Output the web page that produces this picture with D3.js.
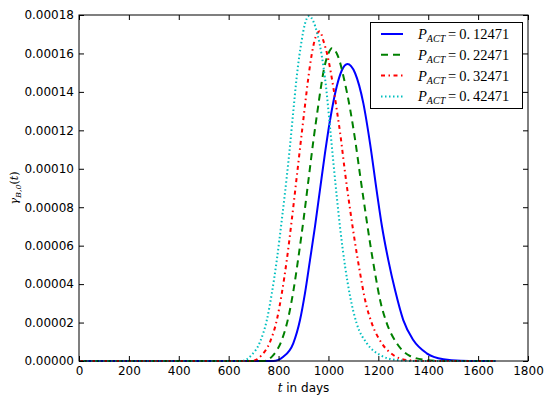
<!DOCTYPE html>
<html>
<head>
<meta charset="utf-8">
<script src="https://cdn.jsdelivr.net/npm/d3@7"></script>
<style>
  body { margin: 0; background: #fff; }
  svg { display: block; }
  .tick text { font-family: "DejaVu Sans", sans-serif; font-size: 12px; fill: #000; }
  .tick line { stroke: #000; }
</style>
</head>
<body>
<div class="main"></div>
<script>
// values in units of 1e-6
const labels = ["0.12471", "0.22471", "0.32471", "0.42471"];
const colors = ["#0000ff", "#008000", "#ff0000", "#00bfbf"];
const dashes = [null, "7,5", "4,3.5,1.5,3.5", "1.5,2.5"];

const blueT = [0, 600, 779, 819, 859, 886, 906, 926, 946, 966, 986, 1006, 1033, 1053, 1076, 1107, 1140, 1167, 1194, 1214, 1240, 1267, 1300, 1340, 1394, 1461, 1530, 1600, 1670];
const blueV = [0, 0, 0, 2.2, 9.2, 21.3, 35.3, 52.5, 69.9, 89.0, 108, 125, 142.7, 151, 154.5, 149.7, 134, 113, 88, 70.5, 52.5, 36.9, 21.3, 10.9, 4.0, 0.9, 0.1, 0, 0];

const greenT = [0, 600, 739, 779, 813, 840, 860, 880, 900, 920, 940, 956, 967, 984, 1000, 1014, 1040, 1062, 1087, 1107, 1127, 1147, 1167, 1187, 1207, 1234, 1274, 1327, 1394, 1460, 1670];
const greenV = [0, 0, 0, 3.1, 10.9, 23.1, 36.9, 54.3, 73.4, 94.2, 115, 130, 140, 153, 160, 162.7, 158, 147, 131, 115, 96.5, 78.6, 61.2, 45.6, 31.7, 19.6, 9.2, 2.6, 0.5, 0, 0];

const redT = [0, 600, 692, 733, 766, 793, 813, 833, 853, 873, 893, 906, 920, 933, 953, 965, 980, 1000, 1020, 1033, 1047, 1067, 1087, 1107, 1127, 1147, 1174, 1214, 1260, 1314, 1380, 1670];
const redV = [0, 0, 0, 3.1, 10.0, 21.3, 35.2, 52.5, 73.4, 95.9, 118.5, 133, 148, 159.5, 170, 171.5, 166.5, 156.6, 142, 131, 118.5, 97.6, 78.6, 61.2, 45.6, 31.7, 19.6, 9.2, 3.1, 0.5, 0, 0];

const cyanT = [0, 600, 652, 692, 726, 753, 773, 793, 813, 833, 846, 857, 873, 893, 905, 922, 940, 955, 973, 990, 1006, 1020, 1033, 1047, 1067, 1087, 1113, 1154, 1207, 1274, 1340, 1670];
const cyanV = [0, 0, 0, 3.1, 10.0, 21.3, 35.2, 52.5, 73.4, 95.9, 112, 127, 148, 167, 175, 179.5, 176.5, 170.5, 159, 143, 122, 103, 86, 69, 49, 33.5, 19.6, 9.2, 3.1, 0.5, 0, 0];

const xTicks = [0, 200, 400, 600, 800, 1000, 1200, 1400, 1600, 1800];
const yTicks = [0, 0.00002, 0.00004, 0.00006, 0.00008, 0.0001, 0.00012, 0.00014, 0.00016, 0.00018];

const seriesT = [blueT, greenT, redT, cyanT];
const seriesV = [blueV, greenV, redV, cyanV];

let width = 550;
let height = 399;
let margin = { left: 79, right: 22, top: 15, bottom: 38 };

let svg = d3.select(".main").append("svg")
    .attr("width", width)
    .attr("height", height);

let x = d3.scaleLinear().domain([0, 1800]).range([margin.left, width - margin.right]);
let y = d3.scaleLinear().domain([0, 0.00018]).range([height - margin.bottom, margin.top]);

// curves, cyan drawn last
let line = d3.line()
    .x(d => x(d[0]))
    .y(d => y(d[1] * 1e-6))
    .curve(d3.curveMonotoneX);

seriesT.forEach((ts, i) => {
    let pts = ts.map((t, j) => [t, seriesV[i][j]]);
    svg.append("path")
        .datum(pts)
        .attr("fill", "none")
        .attr("stroke", colors[i])
        .attr("stroke-width", 2)
        .attr("stroke-dasharray", dashes[i])
        .attr("d", line);
});

// axes, ticks pointing inward
svg.append("g")
    .attr("transform", `translate(0,${y(0)})`)
    .call(d3.axisBottom(x).tickValues(xTicks).tickFormat(d3.format("d")).tickSize(-5).tickSizeOuter(0).tickPadding(5));
svg.append("g")
    .attr("transform", `translate(0,${y(0.00018)})`)
    .call(d3.axisTop(x).tickValues(xTicks).tickFormat("").tickSize(-5).tickSizeOuter(0));
svg.append("g")
    .attr("transform", `translate(${x(0)},0)`)
    .call(d3.axisLeft(y).tickValues(yTicks).tickFormat(d3.format(".5f")).tickSize(-5).tickSizeOuter(0).tickPadding(5));
svg.append("g")
    .attr("transform", `translate(${x(1800)},0)`)
    .call(d3.axisRight(y).tickValues(yTicks).tickFormat("").tickSize(-5).tickSizeOuter(0));
svg.selectAll(".domain").remove();

svg.append("rect")
    .attr("x", x(0))
    .attr("y", y(0.00018))
    .attr("width", x(1800) - x(0))
    .attr("height", y(0) - y(0.00018))
    .attr("fill", "none")
    .attr("stroke", "#000")
    .attr("stroke-width", 1);

// axis labels
let xl = svg.append("text")
    .attr("x", (x(0) + x(1800)) / 2)
    .attr("y", 392)
    .attr("text-anchor", "middle")
    .style("font-family", "DejaVu Sans, sans-serif")
    .style("font-size", "12px");
xl.append("tspan").style("font-family", "DejaVu Serif, serif").style("font-style", "italic").text("t");
xl.append("tspan").text(" in days");

let yl = svg.append("text")
    .attr("transform", `translate(18,${(y(0) + y(0.00018)) / 2}) rotate(-90)`)
    .attr("text-anchor", "middle")
    .style("font-family", "DejaVu Serif, serif")
    .style("font-style", "italic")
    .style("font-size", "11px");
yl.append("tspan").text("γ");
yl.append("tspan").attr("dy", 3).style("font-size", "8px").text("B,0");
yl.append("tspan").attr("dy", -3).style("font-style", "normal").text("(");
yl.append("tspan").text("t");
yl.append("tspan").style("font-style", "normal").text(")");

// legend
let legend = svg.append("g");
legend.append("rect")
    .attr("x", 370.5)
    .attr("y", 22.5)
    .attr("width", 152)
    .attr("height", 86)
    .attr("fill", "#fff")
    .attr("stroke", "#000")
    .attr("stroke-width", 1);

labels.forEach((lab, i) => {
    let ly = 34 + i * 20.8;
    legend.append("line")
        .attr("x1", 381).attr("x2", 403)
        .attr("y1", ly).attr("y2", ly)
        .attr("stroke", colors[i])
        .attr("stroke-width", 2)
        .attr("stroke-dasharray", dashes[i]);
    let t = legend.append("text")
        .attr("x", 418)
        .attr("y", ly + 5)
        .style("font-family", "Liberation Serif, serif")
        .style("font-size", "14.5px");
    t.append("tspan").style("font-style", "italic").text("P");
    t.append("tspan").attr("dy", 3).style("font-style", "italic").style("font-size", "10px").text("ACT");
    t.append("tspan").attr("dy", -3).text("\u2009=\u20090.\u2009" + lab.slice(2));
});
</script>
</body>
</html>
